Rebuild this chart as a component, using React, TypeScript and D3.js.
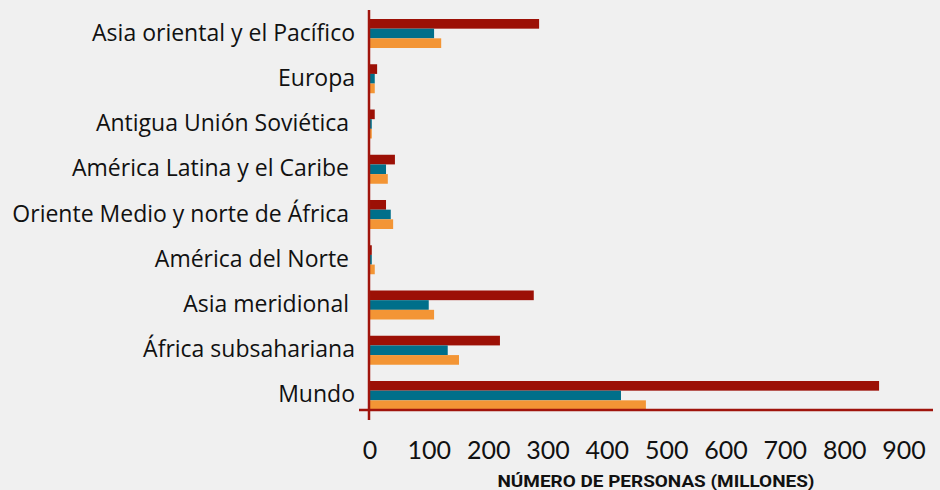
import React, { useEffect, useRef } from "react";
import * as d3 from "d3";

// regions, top to bottom as drawn
const regions = [
  "Asia oriental y el Pacífico",
  "Europa",
  "Antigua Unión Soviética ",
  "América Latina y el Caribe ",
  "Oriente Medio y norte de África ",
  "América del Norte ",
  "Asia meridional ",
  "África subsahariana",
  "Mundo",
];

// three series (unnamed in the picture), values in millions
const seriesRed = [285, 12, 8, 42, 27, 3, 276, 219, 858];
const seriesTeal = [108, 8, 3, 27, 35, 3, 99, 131, 423];
const seriesOrange = [120, 8, 3, 30, 39, 8, 108, 150, 465];

const seriesKeys = ["red", "teal", "orange"];
const seriesColors = ["#9c1006", "#006f8a", "#f39535"];

const xTicks = [0, 100, 200, 300, 400, 500, 600, 700, 800, 900];
const xTitle = "NÚMERO DE PERSONAS (MILLONES)";

const W = 940;
const H = 490;

const App = () => {
  const ref = useRef<SVGSVGElement>(null);

  useEffect(() => {
    document.body.style.margin = "0";
    document.body.style.background = "#f0f0f0";

    const svg = d3.select(ref.current);
    svg.selectAll("*").remove();

    const x = d3.scaleLinear().domain([0, 900]).range([370, 904]);
    const y0 = d3
      .scaleBand()
      .domain(regions)
      .range([19, 410])
      .paddingInner(0.359)
      .paddingOuter(0);
    const y1 = d3.scaleBand().domain(seriesKeys).range([0, y0.bandwidth()]);

    const allSeries = [seriesRed, seriesTeal, seriesOrange];

    svg.append("rect").attr("width", W).attr("height", H).attr("fill", "#f0f0f0");

    const groups = svg
      .selectAll(".grp")
      .data(regions)
      .enter()
      .append("g")
      .attr("transform", (d) => "translate(0," + y0(d) + ")");

    groups
      .selectAll("rect")
      .data((d, i) => seriesKeys.map((k, j) => ({ k, v: allSeries[j][i], c: seriesColors[j] })))
      .enter()
      .append("rect")
      .attr("x", x(0))
      .attr("y", (d) => y1(d.k) as number)
      .attr("width", (d) => x(d.v) - x(0))
      .attr("height", y1.bandwidth())
      .attr("fill", (d) => d.c);

    // category labels
    svg
      .selectAll(".cat")
      .data(regions)
      .enter()
      .append("text")
      .attr("x", 355)
      .attr("y", (d) => (y0(d) as number) + y0.bandwidth() / 2 + 7)
      .attr("text-anchor", "end")
      .style("white-space", "pre")
      .style("font-family", "'Open Sans', 'Noto Sans', sans-serif")
      .style("font-size", "23px")
      .attr("fill", "#111")
      .text((d) => d);

    // axis lines
    svg
      .append("line")
      .attr("x1", 369)
      .attr("x2", 369)
      .attr("y1", 10)
      .attr("y2", 420)
      .attr("stroke", "#a0140c")
      .attr("stroke-width", 2.5);
    svg
      .append("line")
      .attr("x1", 359)
      .attr("x2", 933)
      .attr("y1", 410)
      .attr("y2", 410)
      .attr("stroke", "#a0140c")
      .attr("stroke-width", 2.5);

    // tick labels
    svg
      .selectAll(".tick")
      .data(xTicks)
      .enter()
      .append("text")
      .attr("x", (d) => x(d))
      .attr("y", 459)
      .attr("text-anchor", "middle")
      .style("font-family", "Lato, 'Noto Sans', sans-serif")
      .style("font-size", "25px")
      .attr("fill", "#111")
      .text((d) => String(d));

    svg
      .append("text")
      .attr("x", 656)
      .attr("y", 487)
      .attr("text-anchor", "middle")
      .attr("textLength", 317)
      .attr("lengthAdjust", "spacingAndGlyphs")
      .style("font-family", "Roboto, 'Liberation Sans', sans-serif")
      .style("font-size", "17px")
      .style("font-weight", "bold")
      .attr("fill", "#111")
      .text(xTitle);
  }, []);

  return <svg ref={ref} width={W} height={H} style={{ display: "block" }}></svg>;
};

export default App;
